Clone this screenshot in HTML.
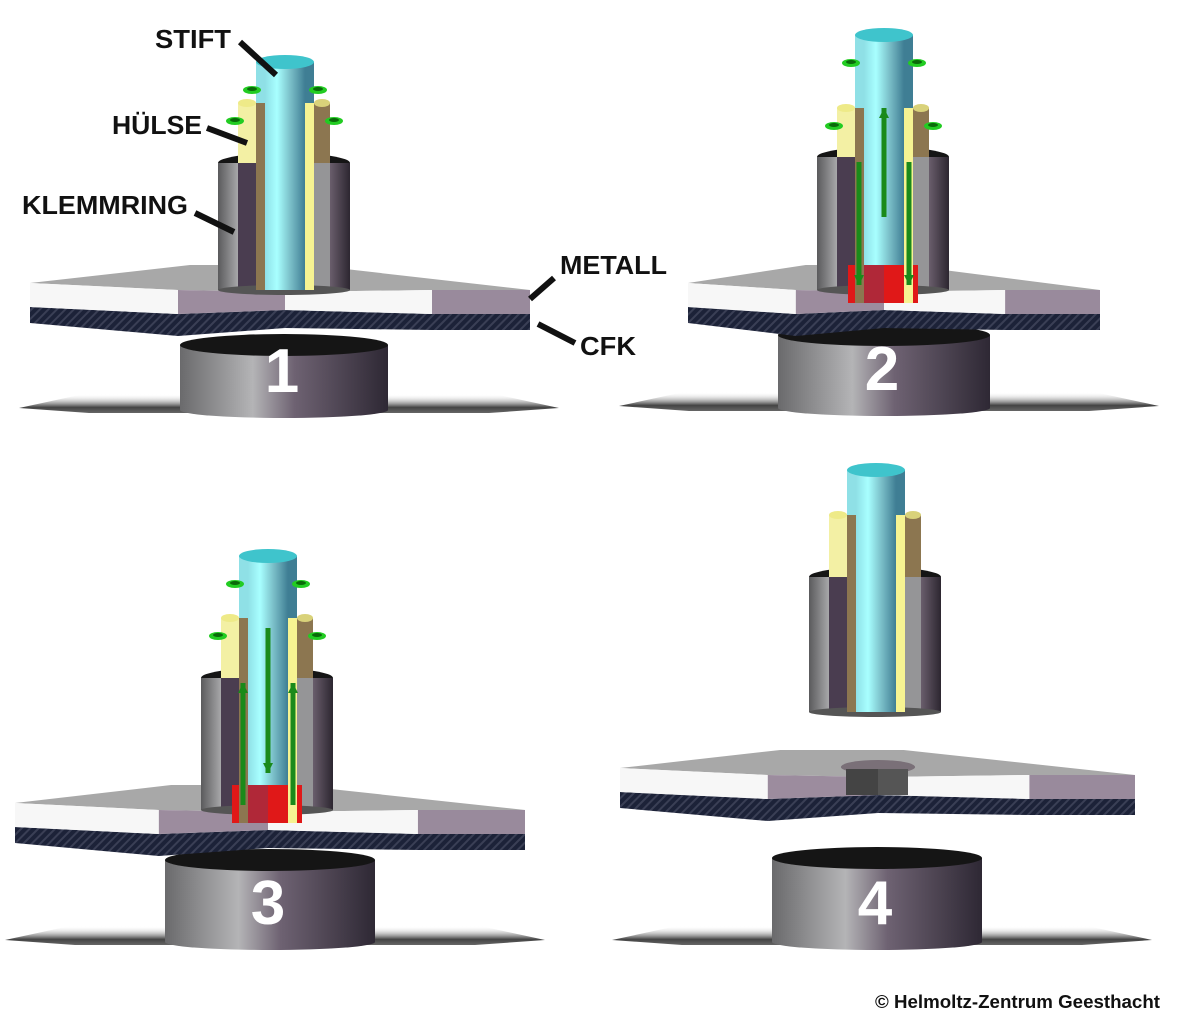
<!DOCTYPE html>
<html><head><meta charset="utf-8"><style>
html,body{margin:0;padding:0;background:#fff;}
svg{display:block}
text{font-family:"Liberation Sans",Arial,sans-serif;font-weight:bold;}
</style></head><body>
<svg id="s" width="1197" height="1024" viewBox="0 0 1197 1024" xmlns="http://www.w3.org/2000/svg">
<defs>
<linearGradient id="cyl" x1="0" x2="1" y1="0" y2="0">
<stop offset="0" stop-color="#6a6a6c"/><stop offset="0.35" stop-color="#b4b4b6"/><stop offset="0.55" stop-color="#6e6272"/><stop offset="1" stop-color="#2e2834"/></linearGradient>
<linearGradient id="stift" x1="0" x2="1"><stop offset="0" stop-color="#8fe0e6"/><stop offset="0.3" stop-color="#a8ffff"/><stop offset="0.65" stop-color="#78bcc6"/><stop offset="1" stop-color="#3f7e94"/></linearGradient>
<linearGradient id="klemL" x1="0" x2="1"><stop offset="0" stop-color="#5a5a5c"/><stop offset="1" stop-color="#a8a8aa"/></linearGradient>
<linearGradient id="klemR" x1="0" x2="1"><stop offset="0" stop-color="#6a5e6c"/><stop offset="1" stop-color="#2c2630"/></linearGradient>
<linearGradient id="shad" x1="0" x2="0" y1="0" y2="1"><stop offset="0" stop-color="#fff" stop-opacity="0"/><stop offset="0.7" stop-color="#444"/><stop offset="1" stop-color="#666"/></linearGradient>
<pattern id="hatch" width="6" height="6" patternUnits="userSpaceOnUse" patternTransform="rotate(45)">
<rect width="6" height="6" fill="#1c2238"/><rect width="2" height="6" fill="#3a3f55"/></pattern>
</defs>
<g id="root"></g>
<g stroke="#111" stroke-width="6" stroke-linecap="butt">
<line x1="240" y1="42" x2="276" y2="75"/>
<line x1="207" y1="128" x2="247" y2="143"/>
<line x1="195" y1="213" x2="234" y2="232"/>
<line x1="554" y1="278" x2="530" y2="299"/>
<line x1="575" y1="343" x2="538" y2="324"/>
</g>
<g fill="#111" font-size="26">
<text x="155" y="48" textLength="76" lengthAdjust="spacingAndGlyphs">STIFT</text>
<text x="112" y="134" textLength="90" lengthAdjust="spacingAndGlyphs">HÜLSE</text>
<text x="22" y="214" textLength="166" lengthAdjust="spacingAndGlyphs">KLEMMRING</text>
<text x="560" y="274" textLength="107" lengthAdjust="spacingAndGlyphs">METALL</text>
<text x="580" y="355" textLength="56" lengthAdjust="spacingAndGlyphs">CFK</text>
</g>
<text x="875" y="1008" font-size="18" fill="#111" textLength="285" lengthAdjust="spacingAndGlyphs">© Helmoltz-Zentrum Geesthacht</text>
</svg>
<script>
var NS="http://www.w3.org/2000/svg",root=document.getElementById('root');
function el(t,a,p){var e=document.createElementNS(NS,t);for(var k in a)e.setAttribute(k,a[k]);(p||root).appendChild(e);return e;}
function poly(pts,f){return el('polygon',{points:pts.map(function(p){return p.join(',')}).join(' '),fill:f});}
function base(cx,w,top,bot,num){
  poly([[cx-200,bot-16],[cx+210,bot-16],[cx+275,bot-2],[cx+205,bot+3],[cx-195,bot+3],[cx-265,bot-2]],'url(#shad)');
  el('rect',{x:cx-w/2,y:top,width:w,height:bot-top,fill:'url(#cyl)'});
  el('ellipse',{cx:cx,cy:bot,rx:w/2,ry:8,fill:'url(#cyl)'});
  el('ellipse',{cx:cx,cy:top,rx:w/2,ry:11,fill:'#151515'});
  var t=el('text',{x:cx-2,y:bot-18,'font-size':62,fill:'#fff','text-anchor':'middle'});t.textContent=num;
}
function plate(cx,fy,L,R,hole){
  var s=(R-L)/500;
  var a=cx-107*s,b=cx+147*s;
  var T=24,C=16;
  poly([[L,fy-9],[cx-95*s,fy-27],[cx+25*s,fy-27],[R,fy-2],[b,fy-2],[cx,fy],[a,fy-2]],'#a8a8a8');
  poly([[L,fy-9+T],[a,fy-2+T],[cx,fy+T-6],[b,fy-2+T],[R,fy-2+T],[R,fy-2+T+C],[b,fy-2+T+C],[cx,fy+T+C-4],[a,fy-2+T+C+6],[L,fy-9+T+C]],'url(#hatch)');
  poly([[L,fy-9],[a,fy-2],[a,fy-2+T],[L,fy-9+T]],'#f7f7f7');
  poly([[a,fy-2],[cx,fy],[cx,fy+T-6],[a,fy-2+T]],'#9c8c9e');
  poly([[cx,fy],[b,fy-2],[b,fy-2+T],[cx,fy+T-6]],'#f7f7f7');
  poly([[b,fy-2],[R,fy-2],[R,fy-2+T],[b,fy-2+T]],'#998a9c');
  if(hole){
    el('ellipse',{cx:cx,cy:fy-10,rx:36*s,ry:7,fill:'#7a7078'});
    el('rect',{x:cx-32,y:fy-8,width:32,height:T+2,fill:'#444'});
    el('rect',{x:cx,y:fy-8,width:30,height:T+2,fill:'#555'});
  }
}
function tool(cx,st,ht,kt,kb,red,arrows,dir){
  el('rect',{x:cx-67,y:kt,width:20,height:kb-kt,fill:'url(#klemL)'});
  el('rect',{x:cx-47,y:kt,width:18,height:kb-kt,fill:'#4a3d50'});
  el('rect',{x:cx+27,y:kt,width:18,height:kb-kt,fill:'#959597'});
  el('rect',{x:cx+45,y:kt,width:20,height:kb-kt,fill:'url(#klemR)'});
  el('ellipse',{cx:cx-1,cy:kb,rx:66,ry:5,fill:'#555'});
  el('path',{d:'M'+(cx-67)+','+kt+' A66,10 0 0 1 '+(cx+65)+','+kt+' Z',fill:'#151515'});
  el('rect',{x:cx-47,y:ht,width:18,height:kt-ht,fill:'#f3f0a4'});
  el('rect',{x:cx-29,y:ht,width:9,height:kb-ht,fill:'#8c7650'});
  el('rect',{x:cx+20,y:ht,width:9,height:kb-ht,fill:'#f6f392'});
  el('rect',{x:cx+29,y:ht,width:16,height:kt-ht,fill:'#8c7650'});
  el('ellipse',{cx:cx-38,cy:ht,rx:9,ry:4,fill:'#eeea88'});
  el('ellipse',{cx:cx+37,cy:ht,rx:8,ry:4,fill:'#d9d27a'});
  el('rect',{x:cx-20,y:st,width:40,height:kb-st,fill:'url(#stift)'});
  el('rect',{x:cx-29,y:st,width:9,height:ht-st,fill:'#8fe0e6'});
  el('rect',{x:cx+20,y:st,width:9,height:ht-st,fill:'#3f7e94'});
  el('ellipse',{cx:cx,cy:st,rx:29,ry:7,fill:'#3fc4cc'});
  if(red){
    el('rect',{x:cx-36,y:kb-25,width:70,height:red,fill:'#e01818'});
    el('rect',{x:cx-20,y:kb-25,width:20,height:red,fill:'#b02838'});
    el('rect',{x:cx-29,y:kb-25,width:9,height:red,fill:'#8c7650'});
    el('rect',{x:cx+20,y:kb-25,width:9,height:red,fill:'#f6f392'});
  }
  if(arrows){
    var g='#1a8a1a';
    [[cx-33,st+28],[cx+33,st+28],[cx-50,ht+18],[cx+49,ht+18]].forEach(function(p){
      el('ellipse',{cx:p[0],cy:p[1],rx:9,ry:4,fill:'#22cc22'});
      el('ellipse',{cx:p[0],cy:p[1]-1,rx:5,ry:2,fill:'#0a6a0a'});
    });
    if(dir){
      function arr(x,y1,y2){el('line',{x1:x,y1:y1,x2:x,y2:y2,stroke:g,'stroke-width':5});
        var h=y2>y1?-1:1;poly([[x-5,y2+h*10],[x+5,y2+h*10],[x,y2]],g);}
      if(dir==1){arr(cx,kt+60,ht);arr(cx-25,kt+5,kb-5);arr(cx+25,kt+5,kb-5);}
      else{arr(cx,ht+10,kt+95);arr(cx-25,kb-5,kt+5);arr(cx+25,kb-5,kt+5);}
    }
  }
}
base(284,208,345,410,'1');plate(285,292,30,530);tool(285,62,103,163,290,0,1,0);
base(884,212,335,408,'2');plate(884,292,688,1100);tool(884,35,108,157,290,38,1,1);
base(270,210,860,942,'3');plate(268,812,15,525);tool(268,556,618,678,810,38,1,-1);
base(877,210,858,942,'4');plate(878,777,620,1135,1);tool(876,470,515,577,712,0,0,0);
</script>
</body></html>
